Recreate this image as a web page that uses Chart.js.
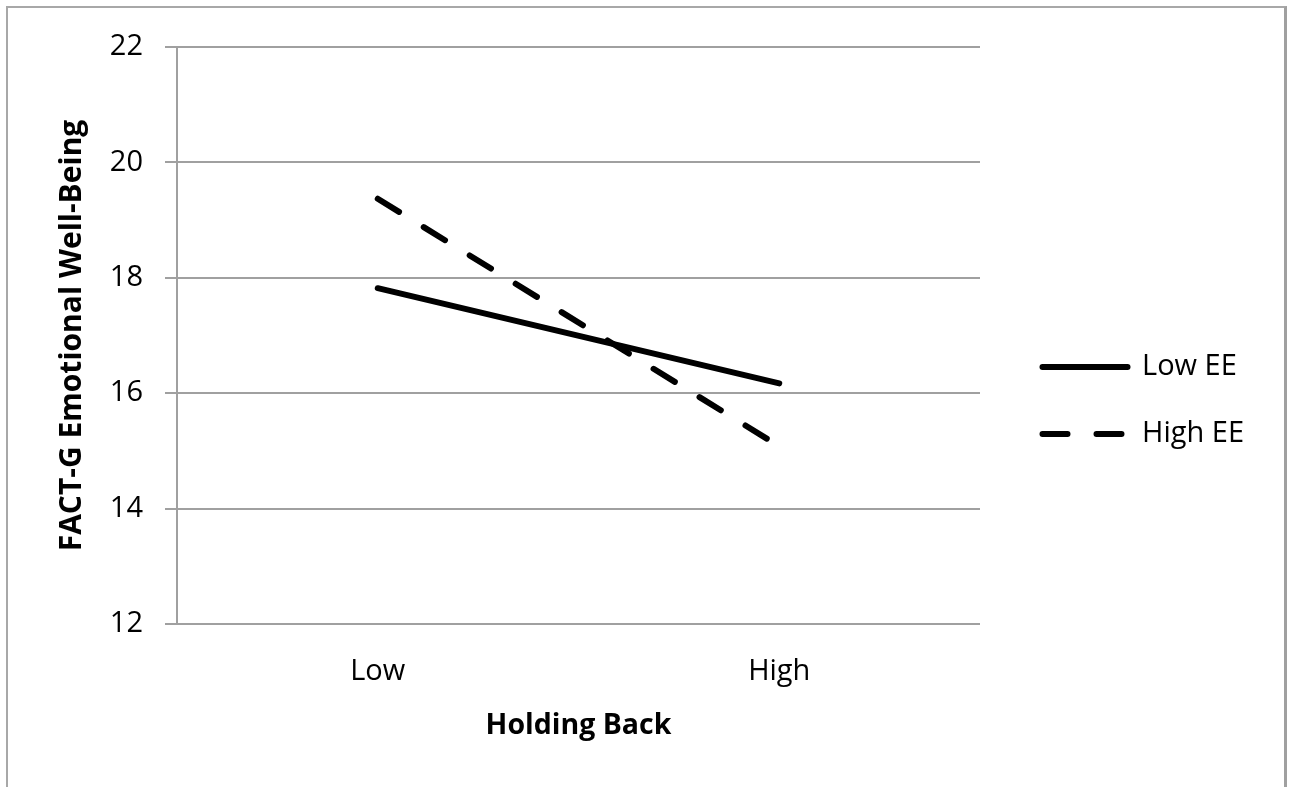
<!DOCTYPE html>
<html>
<head>
<meta charset="utf-8">
<script src="https://cdn.jsdelivr.net/npm/chart.js@4/dist/chart.umd.min.js"></script>
<style>
  html, body { margin: 0; padding: 0; background: #fff; overflow: hidden; }
  #wrap { position: relative; width: 1292px; height: 787px; }
  #frame { position: absolute; left: 6px; top: 6px; width: 1276px; height: 820px;
           border-left: 2px solid #a8a8a8; border-top: 2px solid #a8a8a8; border-right: 3px solid #a0a0a0; }
  canvas { position: absolute; left: 0; top: 0; }
</style>
</head>
<body>
<div id="wrap">
  <div id="frame"></div>
  <canvas id="c" width="1292" height="787"></canvas>
</div>
<script>
const categories = ['Low', 'High'];
const lowEE = [17.82, 16.17];
const highEE = [19.37, 15.08];
const seriesNames = ['Low EE', 'High EE'];
const yMin = 12, yMax = 22, yStep = 2;
const xTitle = 'Holding Back';
const yTitle = 'FACT-G Emotional Well-Being';

const FONT = "'Open Sans', sans-serif";
const GRID = '#a0a0a0';

const shiftLegend = {
  id: 'shiftLegend',
  afterLayout(chart) {
    if (chart.legend) { chart.legend.left += 24.5; chart.legend.right += 24.5; }
  }
};

new Chart(document.getElementById('c'), {
  type: 'line',
  data: {
    labels: categories,
    datasets: [
      { label: seriesNames[0], data: lowEE, borderColor: '#000', backgroundColor: '#000',
        borderWidth: 6, borderCapStyle: 'round', pointRadius: 0, tension: 0, fill: false },
      { label: seriesNames[1], data: highEE, borderColor: '#000', backgroundColor: '#000',
        borderWidth: 6, borderCapStyle: 'round', borderDash: [25, 29], pointRadius: 0, tension: 0, fill: false }
    ]
  },
  options: {
    responsive: false,
    devicePixelRatio: 1,
    animation: false,
    layout: { padding: { top: 47, bottom: 33, left: 0, right: 72 } },
    plugins: {
      tooltip: { enabled: false },
      legend: {
        position: 'right',
        maxWidth: 240,
        labels: {
          usePointStyle: true,
          pointStyle: 'line',
          pointStyleWidth: 85,
          padding: 38,
          color: '#000',
          font: { family: FONT, size: 29 },
          generateLabels(chart) {
            const items = Chart.defaults.plugins.legend.labels.generateLabels(chart);
            items.forEach(it => {
              const ds = chart.data.datasets[it.datasetIndex];
              it.lineDash = ds.borderDash || [];
              it.lineCap = ds.borderCapStyle || 'butt';
              it.lineWidth = ds.borderWidth;
              it.strokeStyle = ds.borderColor;
            });
            return items;
          }
        }
      }
    },
    scales: {
      x: {
        type: 'category',
        offset: true,
        grid: { display: false, drawTicks: false },
        border: { display: false },
        ticks: { color: '#000', padding: 30, font: { family: FONT, size: 29 } },
        title: { display: true, text: xTitle, color: '#000',
                 font: { family: FONT, size: 28.5, weight: 'bold' }, padding: { top: 0, bottom: 11 } },
        afterFit(scale) { scale.height = 130; }
      },
      y: {
        min: yMin, max: yMax,
        ticks: { stepSize: yStep, color: '#000', padding: 22, font: { family: FONT, size: 29 } },
        grid: { color: GRID, lineWidth: 2, tickLength: 12, drawTicks: true },
        border: { display: true, color: GRID, width: 2 },
        title: { display: true, text: yTitle, color: '#000',
                 font: { family: FONT, size: 30, weight: 'bold' }, padding: { top: 54, bottom: 0 } },
        afterFit(scale) { scale.width = 177; }
      }
    }
  },
  plugins: [shiftLegend]
});
</script>
</body>
</html>
